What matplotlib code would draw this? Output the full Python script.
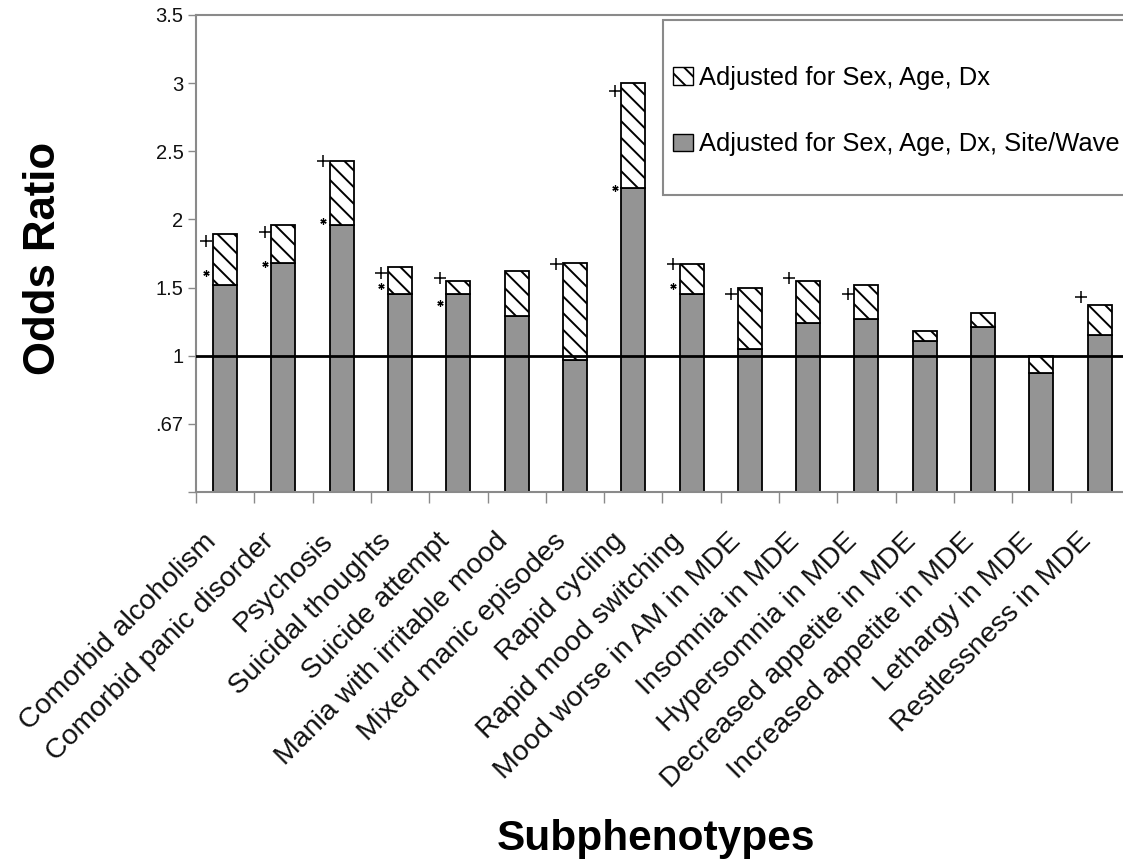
import matplotlib
matplotlib.use("Agg")
import matplotlib.pyplot as plt
import matplotlib.transforms as mtransforms
from matplotlib.patches import Patch, Rectangle
import numpy as np

plt.rcParams['font.family'] = ['Liberation Sans', 'DejaVu Sans']
plt.rcParams['hatch.linewidth'] = 1.4

# --- data ---
subphenotypes = [
    "Comorbid alcoholism", "Comorbid panic disorder", "Psychosis",
    "Suicidal thoughts", "Suicide attempt", "Mania with irritable mood",
    "Mixed manic episodes", "Rapid cycling", "Rapid mood switching",
    "Mood worse in AM in MDE", "Insomnia in MDE", "Hypersomnia in MDE",
    "Decreased appetite in MDE", "Increased appetite in MDE",
    "Lethargy in MDE", "Restlessness in MDE",
]
# adjusted for sex, age, dx, site/wave (grey part)
or_site_wave = [1.52, 1.68, 1.96, 1.45, 1.45, 1.29, 0.97, 2.23,
                1.45, 1.05, 1.24, 1.27, 1.11, 1.21, 0.87, 1.15]
# adjusted for sex, age, dx (top of hatched part)
or_sex_age_dx = [1.89, 1.96, 2.43, 1.65, 1.55, 1.62, 1.68, 3.00,
                 1.67, 1.50, 1.55, 1.52, 1.18, 1.31, 1.00, 1.37]
# significance marks (height where they sit, None = no mark)
plus_marks = [1.84, 1.91, 2.43, 1.61, 1.57, None, 1.67, 2.94,
              1.67, 1.45, 1.57, 1.45, None, None, None, 1.43]
star_marks = [1.61, 1.67, 1.99, 1.51, 1.39, None, None, 2.23,
              1.51, None, None, None, None, None, None, None]
ytick_vals = [0, 0.5, 1, 1.5, 2, 2.5, 3, 3.5]
ytick_labels = ["", ".67", "1", "1.5", "2", "2.5", "3", "3.5"]
legend_labels = ["Adjusted for Sex, Age, Dx",
                 "Adjusted for Sex, Age, Dx, Site/Wave"]

W, H = 1123, 859
fig = plt.figure(figsize=(W / 100, H / 100), dpi=100)
ax = fig.add_axes([196 / W, 1 - 492 / H, 932.8 / W, 477 / H])

spine_grey = "#8a8a8a"
bar_grey = "#949494"
x = np.arange(len(subphenotypes))
gray = np.array(or_site_wave)
full = np.array(or_sex_age_dx)

ax.bar(x, gray, width=0.41, color=bar_grey, edgecolor="black", linewidth=1.3, zorder=2)
ax.bar(x, full - gray, bottom=gray, width=0.41, color="white", edgecolor="black",
       hatch="\\\\", linewidth=1.3, zorder=2)
ax.axhline(1, color="black", linewidth=2, zorder=3)

for i in range(len(x)):
    if plus_marks[i] is not None:
        ax.plot(x[i] - 0.32, plus_marks[i], marker="+", color="black",
                markersize=9, markeredgewidth=1.1, zorder=4)
    if star_marks[i] is not None:
        ax.plot(x[i] - 0.32, star_marks[i], marker=(6, 2, 0), color="black",
                markersize=4.5, markeredgewidth=0.9, zorder=4)

ax.set_xlim(-0.5, len(x) - 0.5)
ax.set_ylim(0, 3.5)
ax.set_yticks(ytick_vals)
ax.set_yticklabels(ytick_labels, fontsize=14.5, color="#111111")
ax.tick_params(axis="y", length=6, width=1, color=spine_grey, pad=3)

ax.set_xticks(x)
ax.set_xticklabels(subphenotypes, rotation=45, ha="right", va="top",
                   rotation_mode="anchor", fontsize=20.5, color="#111111")
ax.set_xticks(np.arange(-0.5, len(x), 1), minor=True)
ax.tick_params(axis="x", which="major", length=0, pad=26)
ax.tick_params(axis="x", which="minor", length=8, width=1, color=spine_grey)
shift = mtransforms.ScaledTranslation(-22 / 100, 0, fig.dpi_scale_trans)
for lbl in ax.get_xticklabels():
    lbl.set_transform(lbl.get_transform() + shift)

for s in ax.spines.values():
    s.set_color(spine_grey)
    s.set_linewidth(1.5)

fig.text(55 / W, 1 - 258 / H, "Odds Ratio", rotation=90, rotation_mode="anchor",
         ha="center", va="baseline", fontsize=31.5, fontweight="bold")
fig.text(656 / W, 1 - 850 / H, "Subphenotypes", ha="center", va="baseline",
         fontsize=30.5, fontweight="bold")

# legend box runs off the right edge like in the original
fig.add_artist(Rectangle((663 / W, 1 - 195 / H), 490 / W, 175 / H,
                         transform=fig.transFigure, facecolor="white",
                         edgecolor=spine_grey, linewidth=1.5, zorder=1))
handles = [Patch(facecolor="white", edgecolor="black", hatch="\\\\", linewidth=1.0),
           Patch(facecolor=bar_grey, edgecolor="black", linewidth=1.0)]
fig.legend(handles, legend_labels, loc="center left",
           bbox_to_anchor=(673 / W, 1 - 111 / H), frameon=False,
           fontsize=18.4, handlelength=0.8, handleheight=0.7,
           handletextpad=0.2, borderpad=0, borderaxespad=0, labelspacing=1.68)

fig.savefig("out.png", dpi=100)
